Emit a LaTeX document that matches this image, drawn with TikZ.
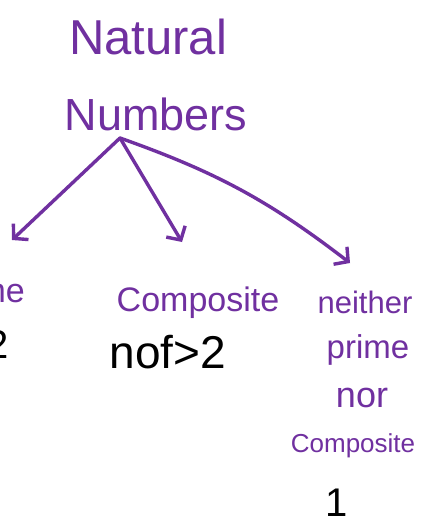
\documentclass[tikz,border=0pt]{standalone}
\usepackage{fontspec}
\setmainfont{Liberation Sans}
\usetikzlibrary{arrows.meta}
\definecolor{purp}{RGB}{112,48,160}
\tikzset{
  lbl/.style={text=purp, inner sep=0pt, anchor=base},
  blk/.style={text=black, inner sep=0pt, anchor=base},
  arr/.style={draw=purp, line width=3.4pt, line cap=round, line join=round,
    -{Straight Barb[length=10pt,width=22pt]}}
}
\newcommand{\fs}[1]{\fontsize{#1}{#1}\selectfont}
\begin{document}
\begin{tikzpicture}[x=1pt,y=-1pt]
\clip (0,0) rectangle (421,527);
\fill[white] (0,0) rectangle (421,527);
\node[lbl, font=\fs{49}] (nat) at (148,55) {Natural};
\node[lbl, font=\fs{45}] (num) at (156,130) {Numbers};
\node[lbl, font=\fs{34}, anchor=base east] (prime) at (25,302) {Prime};
\node[blk, font=\fs{40}, anchor=base east] (two) at (9,358) {2};
\node[lbl, font=\fs{34}] (comp) at (198,311) {Composite};
\node[blk, font=\fs{46}] (nof) at (168,368) {nof>2};
\node[lbl, font=\fs{31}] (neither) at (365,313) {neither};
\node[lbl, font=\fs{33}] (primeb) at (368,358) {prime};
\node[lbl, font=\fs{36}] (nor) at (362,407) {nor};
\node[lbl, font=\fs{26}] (compb) at (353,452) {Composite};
\node[blk, font=\fs{40}] (one) at (337,516) {1};
\coordinate (hub) at (120,138);
\coordinate (t1) at (12,240);
\coordinate (t2) at (182,242);
\coordinate (t3) at (350,263);
\draw[arr] (hub) -- (t1);
\draw[arr] (hub) -- (t2);
\draw[arr] (hub) to[bend left=9] (t3);
\end{tikzpicture}
\end{document}
